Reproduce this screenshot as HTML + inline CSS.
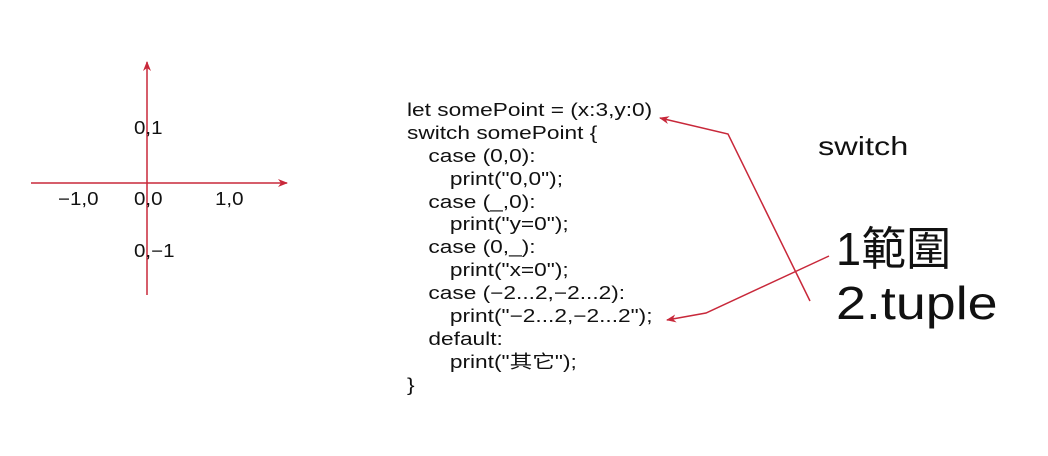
<!DOCTYPE html>
<html><head><meta charset="utf-8"><style>
body{margin:0;width:1048px;height:456px;background:#fff;position:relative;overflow:hidden;font-family:"Liberation Sans","Noto Sans CJK TC",sans-serif;color:#111}
.t{position:absolute;white-space:pre;line-height:1;transform-origin:0 0}
.c{white-space:normal}
.c div{height:22.9px;line-height:22.9px;white-space:pre}
</style></head><body>
<svg width="1048" height="456" style="position:absolute;left:0;top:0">
<defs><marker id="a" markerWidth="10" markerHeight="8" refX="9" refY="4" orient="auto" markerUnits="userSpaceOnUse"><path d="M0,0 L10,4 L0,8 L3,4z" fill="#c8283a"/></marker></defs>
<g stroke="#c8283a" stroke-width="1.5" fill="none">
<line x1="147" y1="295" x2="147" y2="62" marker-end="url(#a)"/>
<line x1="31" y1="183" x2="287" y2="183" marker-end="url(#a)"/>
<polyline points="810,301 728,134 660,118" marker-end="url(#a)"/>
<polyline points="829,256 706,313 667,320" marker-end="url(#a)"/>
</g></svg>
<div class="t" style="left:134px;top:119px;font-size:18px;transform:scaleX(1.14)">0,1</div>
<div class="t" style="left:58px;top:190px;font-size:18px;transform:scaleX(1.14)">−1,0</div>
<div class="t" style="left:134px;top:190px;font-size:18px;transform:scaleX(1.14)">0,0</div>
<div class="t" style="left:215px;top:190px;font-size:18px;transform:scaleX(1.14)">1,0</div>
<div class="t" style="left:134px;top:242px;font-size:18px;transform:scaleX(1.14)">0,−1</div>
<div class="t c" style="left:407px;top:99px;font-size:18px;transform:scaleX(1.26)"><div>let somePoint = (x:3,y:0)</div><div>switch somePoint {</div><div style="padding-left:17px">case (0,0):</div><div style="padding-left:34px">print("0,0");</div><div style="padding-left:17px">case (_,0):</div><div style="padding-left:34px">print("y=0");</div><div style="padding-left:17px">case (0,_):</div><div style="padding-left:34px">print("x=0");</div><div style="padding-left:17px">case (−2...2,−2...2):</div><div style="padding-left:34px">print("−2...2,−2...2");</div><div style="padding-left:17px">default:</div><div style="padding-left:34px">print("其它");</div><div>}</div></div>
<div class="t" style="left:818px;top:133px;font-size:26px;transform:scaleX(1.25)">switch</div>
<div class="t" style="left:836px;top:226px;font-size:46px;transform:scaleX(0.98)">1範圍</div>
<div class="t" style="left:836px;top:280px;font-size:46px;transform:scaleX(1.17)">2.tuple</div>
</body></html>
